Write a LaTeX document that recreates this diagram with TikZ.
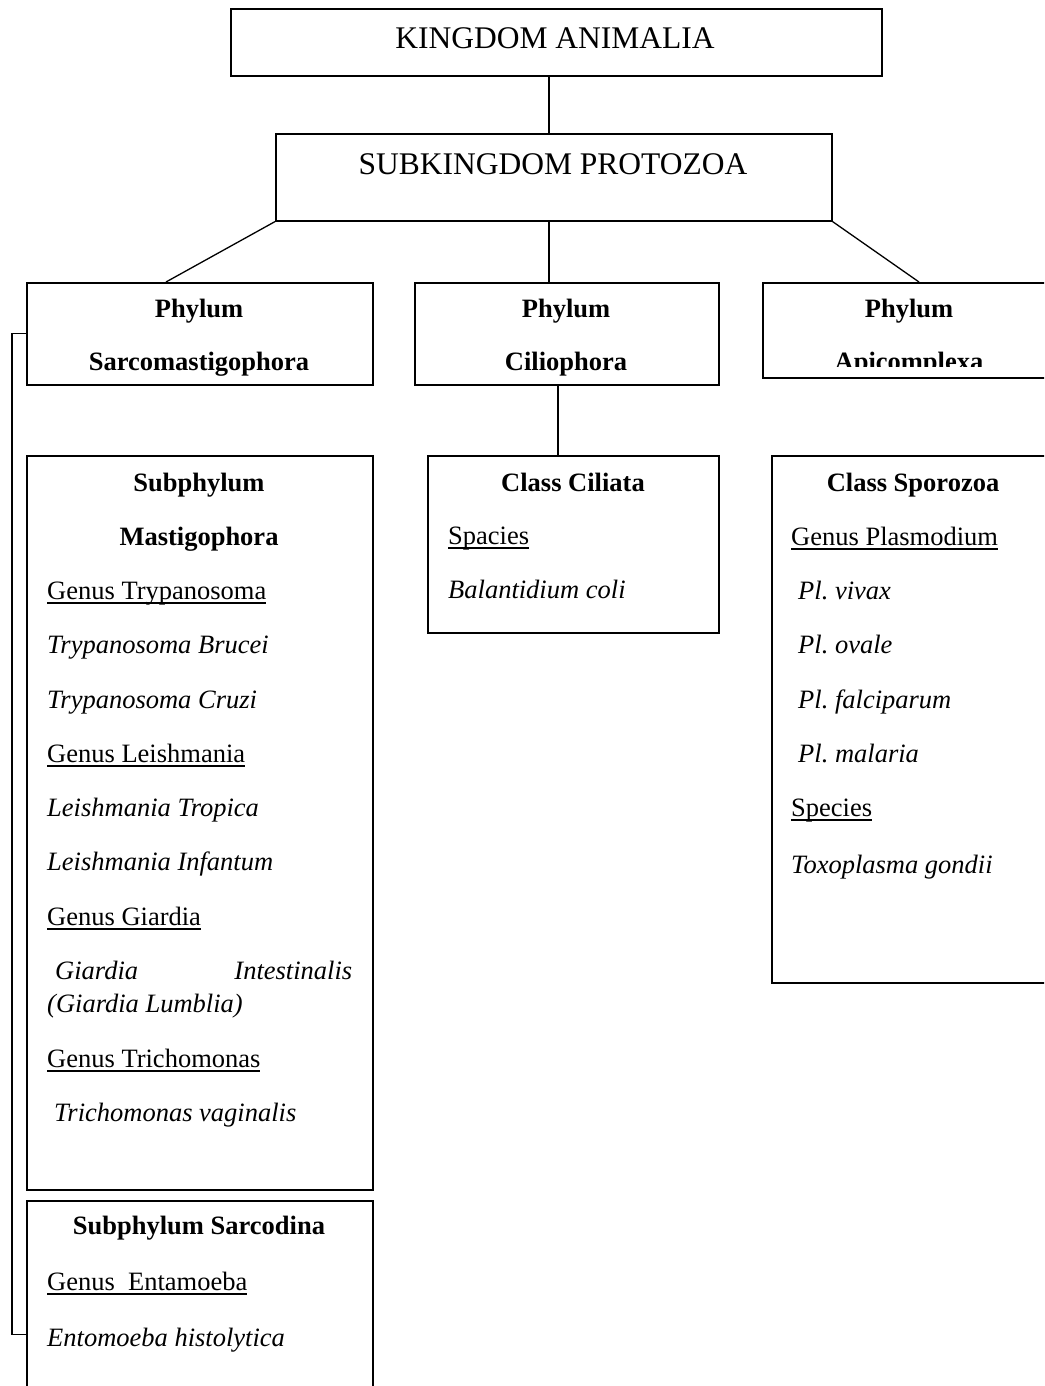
\documentclass[tikz,border=0pt]{standalone}
\usepackage{fontspec}
\setmainfont{Liberation Serif}
\frenchspacing
\newcommand{\undl}[1]{\setbox0\hbox{#1}\rlap{\rule[-4.5pt]{\wd0}{1.3pt}}\box0}

\begin{document}
\begin{tikzpicture}[x=1pt, y=-1pt,
        box/.style={draw, line width=1.6pt, inner sep=0, anchor=north west},
        title/.style={font=\fontsize{31.5}{38}\selectfont, anchor=base, inner sep=0},
        head/.style={font=\fontsize{26.5}{32}\selectfont\bfseries, anchor=base, inner sep=0},
        item/.style={font=\fontsize{26.5}{32}\selectfont, anchor=base west, inner sep=0},
        link/.style={line width=1.3pt}]
        \useasboundingbox (0,0) rectangle (1044,1386);
        \clip (0,0) rectangle (1044,1386);

        % boxes
        \node[box, minimum width=651pt, minimum height=67pt] (kingdom) at (230,8) {};
        \node[box, minimum width=556pt, minimum height=87pt] (subking) at (275,133) {};
        \node[box, minimum width=346pt, minimum height=102pt] (sarco) at (26,282) {};
        \node[box, minimum width=304pt, minimum height=102pt] (cilio) at (414,282) {};
        \node[box, minimum width=294pt, minimum height=95pt] (apicom) at (762,282) {};
        \node[box, minimum width=291pt, minimum height=177pt] (ciliata) at (427,455) {};
        \node[box, minimum width=285pt, minimum height=527pt] (sporo) at (771,455) {};
        \node[box, minimum width=346pt, minimum height=734pt] (masti) at (26,455) {};
        \node[box, minimum width=346pt, minimum height=268pt] (sarcod) at (26,1200) {};

        % connectors
        \draw[link] (549,0 |- kingdom.south) -- (549,0 |- subking.north);
        \draw[link] (subking.south west) -- (166,0 |- sarco.north);
        \draw[link] (549,0 |- subking.south) -- (549,0 |- cilio.north);
        \draw[link] (subking.south east) -- (919,0 |- apicom.north);
        \draw[link] (558,0 |- cilio.south) -- (558,0 |- ciliata.north);
        \draw[link] (sarco.west) -- ++(-14,0) |- (sarcod.west);

        % headings
        \node[title] (kingdomtxt) at (555,49) {KINGDOM ANIMALIA};
        \node[title] (subkingtxt) at (553,174) {SUBKINGDOM PROTOZOA};
        \node[head] (sarco1) at (199,317) {Phylum};
        \node[head] (sarco2) at (199,370) {Sarcomastigophora};
        \node[head] (cilio1) at (566,317) {Phylum};
        \node[head] (cilio2) at (566,370) {Ciliophora};
        \node[head] (apicom1) at (909,317) {Phylum};
        \begin{scope}
            \clip (762,282) rectangle (1056,366);
            \node[head] (apicom2) at (909,370) {Apicomplexa};
        \end{scope}
        \node[head] (masti1) at (199,491) {Subphylum};
        \node[head] (masti2) at (199,545) {Mastigophora};
        \node[head] (ciliata1) at (573,491) {Class Ciliata};
        \node[head] (sporo1) at (913,491) {Class Sporozoa};
        \node[head] (sarcod1) at (199,1234) {Subphylum Sarcodina};

        % genera and species
        \foreach \x/\y/\t [count=\i] in {47/599/\undl{Genus Trypanosoma},
                47/653/\textit{Trypanosoma Brucei}, 47/708/\textit{Trypanosoma Cruzi},
                47/762/\undl{Genus Leishmania}, 47/816/\textit{Leishmania Tropica},
                47/870/\textit{Leishmania Infantum}, 47/925/\undl{Genus Giardia},
                55/979/\makebox[297pt][s]{\textit{Giardia Intestinalis}},
                47/1012/\textit{(Giardia Lumblia)}, 47/1067/\undl{Genus Trichomonas},
                54/1121/\textit{Trichomonas vaginalis}}
            \node[item] (m\i) at (\x,\y) {\t};
        \foreach \x/\y/\t [count=\i] in {448/544/\undl{Spacies}, 448/598/\textit{Balantidium coli}}
            \node[item] (c\i) at (\x,\y) {\t};
        \foreach \x/\y/\t [count=\i] in {791/545/\undl{Genus Plasmodium},
                798/599/\textit{Pl. vivax}, 798/653/\textit{Pl. ovale},
                798/708/\textit{Pl. falciparum}, 798/762/\textit{Pl. malaria},
                791/816/\undl{Species}, 791/873/\textit{Toxoplasma gondii}}
            \node[item] (s\i) at (\x,\y) {\t};
        \foreach \x/\y/\t [count=\i] in {47/1290/\undl{Genus~ Entamoeba},
                47/1346/\textit{Entomoeba histolytica}}
            \node[item] (e\i) at (\x,\y) {\t};
\end{tikzpicture}
\end{document}
